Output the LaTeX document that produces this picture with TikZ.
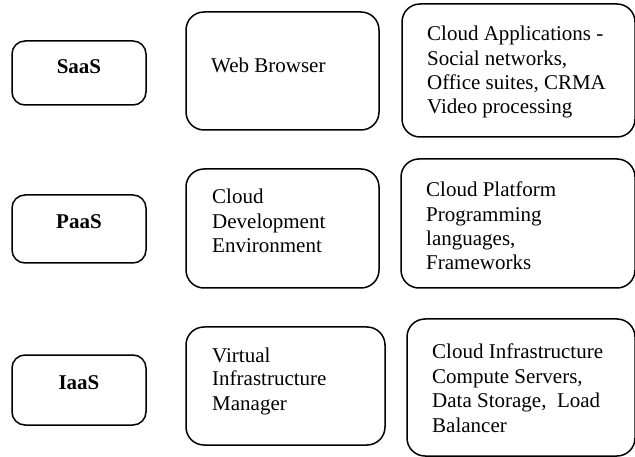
\documentclass[tikz,border=0pt]{standalone}
\usepackage{fontspec}
\setmainfont{Liberation Serif}
\begin{document}
\begin{tikzpicture}[x=1pt,y=-1pt,
  box/.style={draw, line width=1.5pt, rounded corners=18pt, inner sep=0pt, outer sep=0pt},
  small/.style={box, rounded corners=13pt},
  lbl/.style={inner sep=0pt, anchor=base west, font=\fontsize{21}{24.3}\selectfont},
  tag/.style={inner sep=0pt, anchor=base, font=\fontsize{21}{24.3}\selectfont\bfseries}]
\useasboundingbox (0,0) rectangle (635,457);
% left column
\node[small, minimum width=134pt, minimum height=64pt] (saas) at (79,73) {};
\node[tag] (saast) at (79,74) {SaaS};
\node[small, minimum width=134pt, minimum height=68pt] (paas) at (79,229) {};
\node[tag] (paast) at (79,229) {PaaS};
\node[small, minimum width=134pt, minimum height=70pt] (iaas) at (79,390) {};
\node[tag] (iaast) at (79,389) {IaaS};
% middle column
\node[box, minimum width=193pt, minimum height=118pt] (web) at (282.5,71) {};
\node[lbl] (webt) at (211,73) {Web Browser};
\node[box, minimum width=193pt, minimum height=119pt] (dev) at (282.5,228.5) {};
\node[lbl] (devt) at (212,204) {\vtop{\baselineskip=24.5pt\hbox{Cloud}\hbox{Development}\hbox{Environment}}};
\node[box, minimum width=199pt, minimum height=118pt] (vim) at (285.5,386) {};
\node[lbl] (vimt) at (212,362) {\vtop{\baselineskip=24pt\hbox{Virtual}\hbox{Infrastructure}\hbox{Manager}}};
% right column
\node[box, minimum width=233pt, minimum height=133pt] (apps) at (518.5,70.5) {};
\node[lbl] (appst) at (427,41) {\vtop{\baselineskip=24.3pt\hbox{Cloud Applications -}\hbox{Social networks,}\hbox{Office suites, CRMA}\hbox{Video processing}}};
\node[box, minimum width=234pt, minimum height=129pt] (plat) at (518,223.5) {};
\node[lbl] (platt) at (426,197) {\vtop{\baselineskip=24.2pt\hbox{Cloud Platform}\hbox{Programming}\hbox{languages,}\hbox{Frameworks}}};
\node[box, minimum width=228pt, minimum height=137pt] (infra) at (521,387.5) {};
\node[lbl] (infrat) at (432,359) {\vtop{\baselineskip=24.4pt\hbox{Cloud Infrastructure}\hbox{Compute Servers,}\hbox{Data Storage,\ \ Load}\hbox{Balancer}}};
\end{tikzpicture}
\end{document}
